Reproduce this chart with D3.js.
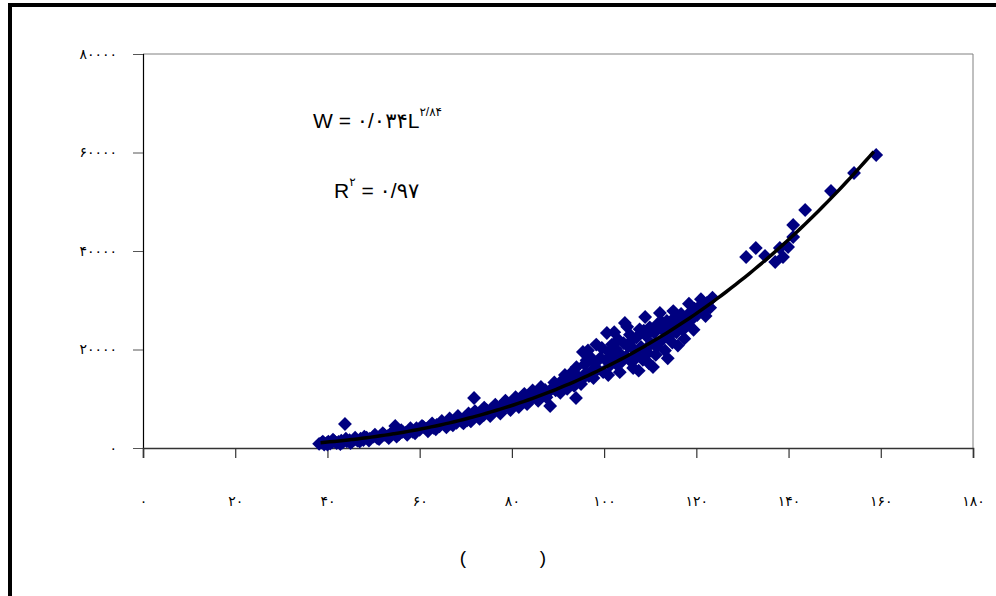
<!DOCTYPE html>
<html>
<head>
<meta charset="utf-8">
<script src="https://cdn.jsdelivr.net/npm/d3@7"></script>
<style>
  body { margin: 0; background: #fff; }
  svg { display: block; }
  text { font-family: "Liberation Sans", Arial, "DejaVu Sans", sans-serif; }
</style>
</head>
<body>
<svg id="chart" width="996" height="596"></svg>
<script>
// --- DATA ---
const lengths = [
  38.2, 38.8, 39.3, 39.8, 40.2, 40.6, 41.0, 41.5, 42.0, 42.4, 43.0, 43.3, 43.8, 44.2, 44.8, 45.3, 45.9, 46.5, 47.2, 47.8,
  48.5, 49.2, 50.0, 50.8, 51.5, 52.3, 53.0, 53.8, 54.7, 55.5, 56.3, 57.0, 57.8, 58.5, 59.3, 60.0, 60.8, 61.5, 62.3, 63.0,
  63.7, 64.3, 65.0, 65.5, 66.2, 66.8, 67.5, 68.0, 68.6, 69.2, 69.8, 70.3, 70.9, 71.4, 71.8, 72.3, 72.8, 73.4, 73.9, 74.5,
  75.0, 75.6, 76.1, 76.7, 77.2, 77.8, 78.3, 78.9, 79.4, 80.0, 80.6, 81.2, 81.8, 82.4, 83.0, 83.6, 84.2, 84.8, 85.4, 86.0,
  86.6, 87.2, 87.8, 88.3, 88.9, 89.5, 90.2, 90.9, 91.5, 91.6, 92.3, 93.0, 93.9, 94.5, 95.2, 95.4, 95.8, 96.0, 96.5, 96.7,
  97.0, 97.4, 98.0, 98.3, 98.6, 99.2, 99.8, 100.4, 100.6, 101.0, 101.3, 101.7, 102.0, 102.4, 102.8, 103.1, 103.5, 103.9, 104.2, 104.5,
  104.8, 105.2, 105.6, 106.0, 106.3, 106.6, 107.0, 107.3, 107.7, 108.0, 108.4, 108.9, 109.1, 109.5, 109.9, 110.2, 110.6, 110.9, 111.2, 111.6,
  112.1, 112.4, 112.8, 113.2, 113.6, 114.0, 114.4, 114.8, 115.3, 115.7, 116.2, 116.7, 117.1, 117.6, 118.1, 118.6, 119.1, 119.6, 120.2, 120.8,
  121.4, 122.3, 123.0, 130.8, 132.9, 134.9, 137.1, 138.1, 138.8, 139.9, 141.0, 141.0, 143.6, 149.2, 154.2, 159.0,
  39.0, 40.0, 41.2, 42.8, 44.0, 45.0, 46.0, 47.0, 48.0, 49.0, 50.3, 51.2, 52.0, 53.3, 54.2, 55.0, 56.0, 57.3, 58.0, 59.0,
  60.5, 61.8, 62.7, 63.5, 64.8, 65.8, 66.5, 67.2, 68.3, 69.5, 70.6, 71.1, 72.0, 73.0, 74.0, 75.3, 76.4, 77.5, 78.6, 79.7,
  80.8, 81.5, 82.7, 83.3, 84.5, 85.7, 86.3, 87.5, 89.2, 90.5, 91.2, 92.0, 92.8, 93.5, 94.0, 95.0, 96.2, 97.7,
  99.5, 100.9, 102.2, 103.4, 105.0, 105.9, 107.5, 108.6, 109.7, 111.4, 112.6, 113.8, 115.0, 116.0, 117.4, 118.4, 119.4, 121.0, 122.0, 123.5
];
const weights = [
  850, 1100, 700, 1000, 1300, 900, 1150, 1400, 1000, 1250, 1500, 1100, 4870, 1350, 1600, 1250, 1700, 1500, 1900, 1600,
  2100, 1900, 2300, 2000, 2500, 2700, 2400, 3000, 4470, 2800, 3300, 3100, 3600, 3300, 4000, 3700, 4300, 3900, 4500, 4100,
  4700, 4400, 5000, 4600, 5300, 4900, 5600, 5100, 5900, 5300, 6200, 5600, 6600, 6000, 10150, 6900, 6300, 7300, 6700, 7700,
  7100, 8000, 7400, 8300, 7800, 8700, 8100, 9100, 8500, 9400, 8800, 9800, 9200, 10200, 9600, 10500, 9900, 11000, 10300, 11400,
  10700, 11800, 11200, 8530, 12300, 11700, 12700, 12200, 14820, 13100, 12700, 13600, 10150, 14400, 13900, 19490, 17000, 15200, 19800, 14600,
  18500, 15800, 17200, 21000, 16000, 18300, 15400, 17800, 23350, 19500, 16800, 21000, 18200, 20200, 16900, 22000, 19100, 17600, 21300, 25380,
  18600, 20600, 23000, 17400, 16240, 19900, 22400, 18700, 24100, 20500, 17900, 26600, 22800, 19300, 24500, 21200, 16450, 23400, 18900, 25200,
  27410, 21800, 23900, 19800, 25800, 22600, 24800, 21400, 26500, 23500, 25300, 27200, 24000, 26100, 25000, 27500, 26200, 28300, 27000, 28900,
  27700, 29440, 28500, 38780, 40610, 38990, 37770, 40610, 38780, 40810, 45280, 42840, 48330, 52190, 55840, 59490,
  1300, 700, 1700, 800, 1900, 1000, 2100, 1300, 2300, 1500, 2700, 1800, 3000, 2000, 3300, 2300, 3600, 2700, 4000, 3000,
  4500, 3400, 5000, 3800, 5500, 4200, 6000, 4600, 6500, 5000, 7000, 5400, 7500, 5900, 8200, 6500, 8800, 7000, 9600, 7700,
  10300, 8300, 11000, 8900, 11700, 9600, 12400, 10300, 13300, 11200, 14000, 12000, 15200, 12600, 16400, 13000, 17800, 14200,
  20300, 14800, 23500, 15400, 24600, 21800, 15700, 23800, 17200, 20500, 25500, 18200, 27800, 20800, 22200, 29300, 24000, 30200, 26800, 30500
];
const xTicks = [0, 20, 40, 60, 80, 100, 120, 140, 160, 180];
const yTicks = [0, 20000, 40000, 60000, 80000];
// trendline W = a * L^b as printed on the chart
const fitA = 0.034, fitB = 2.84;
const fitRange = [38.5, 159];

// --- HELPERS ---
const faDigits = "۰۱۲۳۴۵۶۷۸۹";
const fa = s => String(s).replace(/[0-9]/g, d => faDigits[+d]);

// --- LAYOUT ---
const svg = d3.select("#chart");
const plot = { left: 143, top: 54, right: 973, bottom: 448 };

const x = d3.scaleLinear().domain([0, 180]).range([plot.left, plot.right]);
const y = d3.scaleLinear().domain([0, 80000]).range([plot.bottom, plot.top]);

// outer chart border
svg.append("rect")
  .attr("x", 10).attr("y", 5).attr("width", 1100).attr("height", 700)
  .attr("fill", "none").attr("stroke", "#000").attr("stroke-width", 4);

// plot frame (top/right gray)
svg.append("path")
  .attr("d", `M${plot.left},${plot.top}H${plot.right}V${plot.bottom}`)
  .attr("fill", "none").attr("stroke", "#808080").attr("stroke-width", 1);

// --- AXES ---
const yAxis = svg.append("g")
  .attr("transform", `translate(${plot.left},0)`)
  .call(d3.axisLeft(y).tickValues(yTicks).tickSize(10).tickPadding(16).tickFormat(fa));
yAxis.select(".domain").attr("stroke", "#000").attr("stroke-width", 1.2);
yAxis.selectAll(".tick line").attr("stroke", "#555");
yAxis.selectAll(".tick text")
  .style("font-family", "'DejaVu Sans', sans-serif").style("font-size", "14px").attr("fill", "#000");

const xAxis = svg.append("g")
  .attr("transform", `translate(0,${plot.bottom})`)
  .call(d3.axisBottom(x).tickValues(xTicks).tickSize(10).tickPadding(38).tickFormat(fa));
xAxis.select(".domain").attr("stroke", "#333").attr("stroke-width", 1.6);
xAxis.selectAll(".tick line").attr("stroke", "#333").attr("stroke-width", 1.2);
xAxis.selectAll(".tick text")
  .style("font-family", "'DejaVu Sans', sans-serif").style("font-size", "14px").attr("fill", "#000");

// --- POINTS ---
const pts = lengths.map((L, i) => ({ L, W: weights[i] }));
svg.append("g").selectAll("path")
  .data(pts).join("path")
  .attr("d", d3.symbol(d3.symbolSquare, 96))
  .attr("transform", d => `translate(${x(d.L)},${y(d.W)}) rotate(45)`)
  .attr("fill", "#000080");

// --- TRENDLINE ---
const fitPts = d3.range(fitRange[0], fitRange[1] + 0.01, 1).map(L => [L, fitA * Math.pow(L, fitB)]);
svg.append("path")
  .datum(fitPts)
  .attr("d", d3.line().x(d => x(d[0])).y(d => y(d[1])).curve(d3.curveMonotoneX))
  .attr("fill", "none").attr("stroke", "#000").attr("stroke-width", 3.5);

// --- ANNOTATIONS ---
const eq = svg.append("text").attr("x", 313).attr("y", 128)
  .style("font-size", "21px").attr("fill", "#000");
eq.append("tspan").text("W = " + fa("0/034") + "L");
eq.append("tspan").attr("dy", -12).style("font-size", "12px").text(fa("2/84"));

const r2 = svg.append("text").attr("x", 334).attr("y", 198)
  .style("font-size", "21px").attr("fill", "#000");
r2.append("tspan").text("R");
r2.append("tspan").attr("dy", -12).style("font-size", "12px").text(fa("2"));
r2.append("tspan").attr("dy", 12).text(" = " + fa("0/97"));

// x axis title (glyphs missing in original, only parentheses visible)
svg.append("text").attr("x", 463).attr("y", 564).attr("text-anchor", "middle")
  .style("font-size", "19px").text("(");
svg.append("text").attr("x", 543).attr("y", 564).attr("text-anchor", "middle")
  .style("font-size", "19px").text(")");
</script>
</body>
</html>
